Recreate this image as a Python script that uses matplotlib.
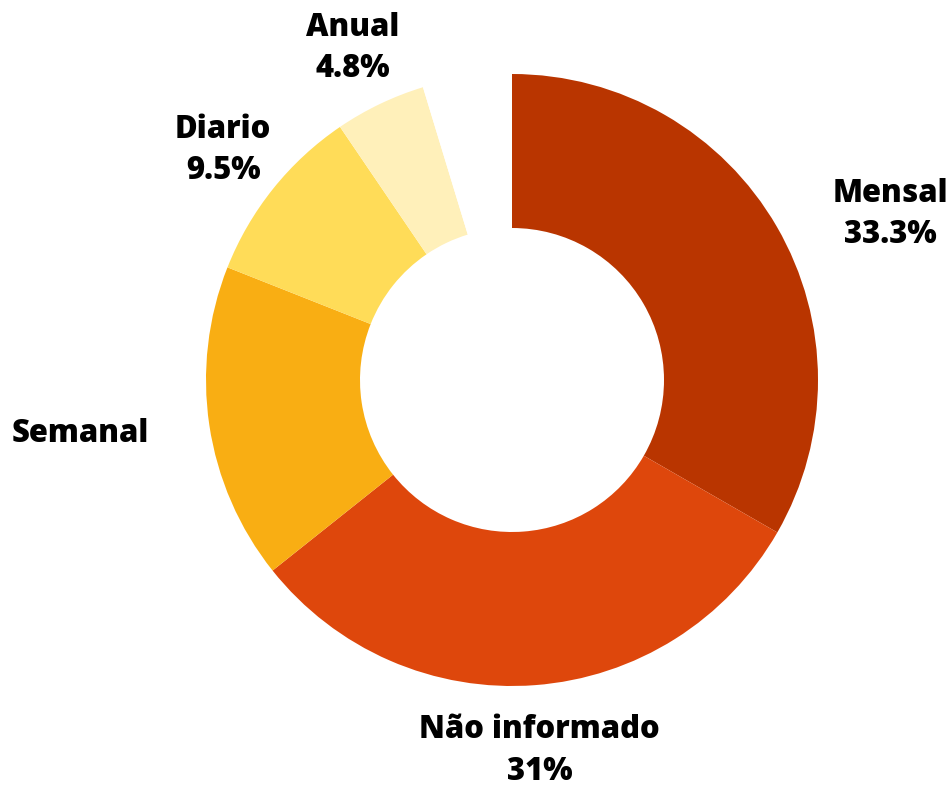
import numpy as np
import matplotlib
matplotlib.use("Agg")
import matplotlib.pyplot as plt

categories = ["Mensal", "Não informado", "Semanal", "Diario", "Anual", ""]
values = [33.3, 31.0, 16.7, 9.5, 4.8, 4.7]
labels_pct = ["33.3%", "31%", "", "9.5%", "4.8%", ""]
colors = ["#B93500", "#DE470C", "#F9AE13", "#FFDC58", "#FFF0BA", "#FFFFFF"]

W, H = 950, 786
fig = plt.figure(figsize=(W / 100, H / 100), dpi=100)
ax = fig.add_axes([0, 0, 1, 1])

cx, cy, R = 512, H - 380, 306
wedges, _ = ax.pie(values, colors=colors, startangle=90, counterclock=False,
                   center=(cx, cy), radius=R,
                   wedgeprops=dict(width=R - 152, edgecolor="none"))
ax.set_xlim(0, W)
ax.set_ylim(0, H)
ax.set_aspect("equal")
ax.axis("off")

offsets = {0: (58, -20), 1: (0, -2), 2: (-66, 0), 3: (0, -2), 4: (0, -2)}
for i, w in enumerate(wedges):
    if not categories[i]:
        continue
    ang = np.deg2rad((w.theta1 + w.theta2) / 2)
    x = cx + 370 * np.cos(ang)
    y = cy + 370 * np.sin(ang)
    dx, dy = offsets.get(i, (0, 0))
    txt = categories[i] if not labels_pct[i] else categories[i] + "\n" + labels_pct[i]
    ax.text(x + dx, y + dy, txt, ha="center", va="center", fontsize=22.3,
            fontweight="heavy", family=["Open Sans", "DejaVu Sans"],
            linespacing=1.38, color="black")

fig.savefig("out.png", dpi=100, facecolor="white")
